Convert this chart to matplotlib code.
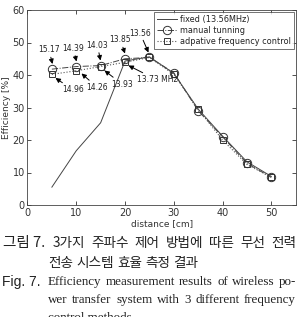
import matplotlib
matplotlib.use("Agg")
import matplotlib.pyplot as plt

# ---- data ----
distance = [5, 10, 15, 20, 25, 30, 35, 40, 45, 50]
fixed_eff = [5.5, 16.7, 25.3, 44.3, 45.6, 40.5, 29.5, 21.2, 13.3, 8.8]
manual_eff = [41.8, 42.6, 42.9, 45.0, 45.4, 40.7, 29.0, 21.0, 12.8, 8.5]
adaptive_eff = [40.2, 41.3, 42.6, 43.9, 45.4, 40.2, 29.5, 20.0, 12.5, 8.5]

manual_freq_labels = ["15.17", "14.39", "14.03", "13.85", "13.56"]
manual_freq_x = [5, 10, 15, 20, 25]
adaptive_freq_labels = ["14.96", "14.26", "13.93", "13.73 MHz"]
adaptive_freq_x = [5, 10, 15, 20]

legend_labels = ["fixed (13.56MHz)", "manual tunning", "adpative frequency control"]
xticks = [0, 10, 20, 30, 40, 50]
yticks = [0, 10, 20, 30, 40, 50, 60]

W, H = 300, 317
fig = plt.figure(figsize=(W / 100, H / 100), dpi=100)
ax = fig.add_axes([27.5 / W, 1 - 205 / H, (295.7 - 27.5) / W, (205 - 10) / H])

lc = "#333333"
ax.plot(distance, fixed_eff, "-", color="#444444", lw=0.7, label=legend_labels[0])
ax.plot(distance, manual_eff, "-.", color="#444444", lw=0.7, marker="o", ms=6,
        mfc="none", mec="#333333", mew=0.7, label=legend_labels[1])
ax.plot(distance, adaptive_eff, ":", color="#555555", lw=0.8, marker="s", ms=4.8,
        mfc="none", mec="#333333", mew=0.7, label=legend_labels[2])

ax.set_xlim(0, 55)
ax.set_ylim(0, 60)
ax.set_xticks(xticks)
ax.set_yticks(yticks)
ax.tick_params(direction="in", top=True, right=True, length=3, width=0.6,
               labelsize=7, colors=lc, pad=2)
for s in ax.spines.values():
    s.set_linewidth(0.6)
    s.set_color("#444444")
ax.set_xlabel("distance [cm]", fontsize=6.5, color=lc, labelpad=1)
ax.set_ylabel("Efficiency [%]", fontsize=6.5, color=lc, labelpad=1)

leg = ax.legend(loc="upper right", fontsize=5.9, frameon=True, fancybox=False,
                edgecolor="#333333", handlelength=2.4, borderpad=0.35,
                labelspacing=0.25, handletextpad=0.4, borderaxespad=0.25)
leg.get_frame().set_linewidth(0.6)
for t in leg.get_texts():
    t.set_color("#222222")

def px2d(px, py):
    return ((px - 27.5) / 4.877, (205 - py) / 3.25)

ap = dict(arrowstyle="-|>", color="black", lw=0.7, mutation_scale=7,
          shrinkA=0, shrinkB=0)

above_text_px = [(49, 50), (73.5, 48.5), (97.5, 45.5), (120.5, 40), (140, 33)]
above_tip_px = [(52.5, 64), (76.5, 61.5), (100.5, 60.5), (125, 53.5), (148.5, 52.5)]
for lab, tp, tip in zip(manual_freq_labels, above_text_px, above_tip_px):
    ax.annotate(lab, xy=px2d(*tip), xytext=px2d(*tp), fontsize=5.5, color="#222222",
                ha="center", va="center", arrowprops=ap)

below_text_px = [(73, 90), (97.5, 87.5), (122.5, 84.5), (157, 80)]
below_tip_px = [(55.5, 78), (81.5, 73.5), (104.5, 70.5), (128.5, 65.5)]
for lab, tp, tip in zip(adaptive_freq_labels, below_text_px, below_tip_px):
    ax.annotate(lab, xy=px2d(*tip), xytext=px2d(*tp), fontsize=5.5, color="#222222",
                ha="center", va="center", arrowprops=ap)

# ---- caption ----
renderer = fig.canvas.get_renderer()

def put(s, x, y, **kw):
    return fig.text(x / W, 1 - y / H, s, va="center", ha="left", **kw)

def fit_size(s, target, f0, fill, **kw):
    t = put(s, 0, -100, fontsize=f0, **kw)
    w = t.get_window_extent(renderer).width
    t.remove()
    return f0 * target * fill / w

def justify(words, x0, x1, y, fontsize, **kw):
    ts = [put(w, 0, y, fontsize=fontsize, **kw) for w in words]
    ws = [t.get_window_extent(renderer).width for t in ts]
    gap = (x1 - x0 - sum(ws)) / max(len(words) - 1, 1)
    x = x0
    for t, w in zip(ts, ws):
        t.set_x(x / W)
        x += w + gap

kfam = dict(family=["Noto Sans CJK KR", "DejaVu Sans"], color="#222222")
put("그림 7.", 3, 243, fontsize=10.5, **kfam)
k1 = "3가지 주파수 제어 방법에 따른 무선 전력"
kf = fit_size(k1, 296 - 53, 10, 0.93, **kfam)
justify(k1.split(), 53, 296, 243, kf, **kfam)
justify("전송 시스템 효율 측정 결과".split(), 48.5, 198, 263, kf, **kfam)

efam = dict(family="Liberation Serif", color="#222222")
put("Fig. 7.", 2, 282, fontsize=10, family="Liberation Sans", color="#222222")
e1 = "Efficiency measurement results of wireless po-"
e2 = "wer transfer system with 3 different frequency"
ef = fit_size(e1, 296 - 48, 10, 0.98, **efam)
justify(e1.split(), 48, 296, 282, ef, **efam)
justify(e2.split(), 48, 296, 300, ef, **efam)
put("control methods.", 48, 318, fontsize=ef, **efam)

fig.savefig("out.png", dpi=100)
